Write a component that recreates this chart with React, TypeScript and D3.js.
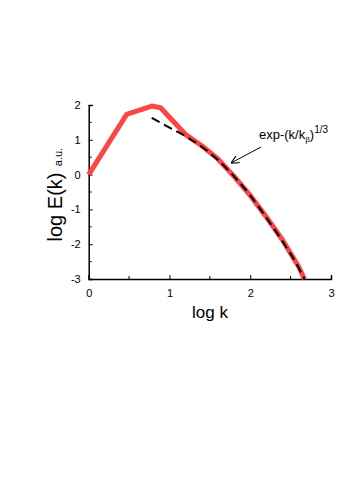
import React, { useEffect, useRef } from 'react';
import * as d3 from 'd3';

// measured spectrum (red) and stretched-exponential fit (dashed)
const specLogK = [0, 0.47, 0.78, 0.89, 1.2, 1.4, 1.6, 1.8, 2.0, 2.2, 2.4, 2.6, 2.67];
const specLogE = [0, 1.73, 1.97, 1.92, 1.15, 0.83, 0.45, -0.05, -0.6, -1.22, -1.88, -2.65, -3.0];

const fitLogK = [0.78, 1.0, 1.2, 1.4, 1.6, 1.8, 2.0, 2.2, 2.4, 2.6, 2.67];
const fitLogE = [1.63, 1.35, 1.1, 0.8, 0.42, -0.05, -0.6, -1.24, -1.92, -2.68, -3.0];

const xTicks = [0, 1, 2, 3];
const yTicks = [-3, -2, -1, 0, 1, 2];

export default function App() {
    const ref = useRef<SVGSVGElement>(null);

    useEffect(() => {
        const svg = d3.select(ref.current);
        svg.selectAll('*').remove();

        const font = 'Arial, "Liberation Sans", sans-serif';
        const x = d3.scaleLinear().domain([0, 3]).range([88.7, 331]);
        const y = d3.scaleLinear().domain([-3, 2]).range([279, 105]);

        // axes with inward ticks
        const xAxis = d3.axisBottom(x).tickValues(xTicks).tickSize(-4).tickPadding(10).tickFormat(d => String(d));
        const yAxis = d3.axisLeft(y).tickValues(yTicks).tickSize(-4).tickPadding(8).tickFormat(d => String(d));

        const gx = svg.append('g').attr('transform', `translate(0,${y(-3)})`).call(xAxis);
        const gy = svg.append('g').attr('transform', `translate(${x(0)},0)`).call(yAxis);
        [gx, gy].forEach(g => {
            g.select('.domain').attr('stroke', '#000').attr('stroke-width', 1.5);
            g.selectAll('.tick line').attr('stroke', '#000').attr('stroke-width', 1);
            g.selectAll('.tick text').attr('font-family', font).attr('font-size', 11).attr('fill', '#000');
        });
        gx.selectAll('.tick text').attr('dy', '0.71em');

        // minor ticks
        const g = svg.append('g').attr('stroke', '#000').attr('stroke-width', 1);
        [0.5, 1.5, 2.5].forEach(v => {
            g.append('line').attr('x1', x(v)).attr('x2', x(v)).attr('y1', y(-3)).attr('y2', y(-3) - 3);
        });
        [-2.5, -1.5, -0.5, 0.5, 1.5].forEach(v => {
            g.append('line').attr('x1', x(0)).attr('x2', x(0) + 3).attr('y1', y(v)).attr('y2', y(v));
        });

        const line = d3.line<[number, number]>().x(d => x(d[0])).y(d => y(d[1]));

        svg.append('path')
            .datum(specLogK.map((k, i) => [k, specLogE[i]] as [number, number]))
            .attr('d', line)
            .attr('fill', 'none')
            .attr('stroke', '#ff4444')
            .attr('stroke-width', 5)
            .attr('stroke-linejoin', 'round');

        svg.append('path')
            .datum(fitLogK.map((k, i) => [k, fitLogE[i]] as [number, number]))
            .attr('d', d3.line<[number, number]>().x(d => x(d[0])).y(d => y(d[1])).curve(d3.curveMonotoneX))
            .attr('fill', 'none')
            .attr('stroke', '#000')
            .attr('stroke-width', 2)
            .attr('stroke-dasharray', '9,5');

        // axis titles
        svg.append('text')
            .attr('x', 210).attr('y', 318)
            .attr('text-anchor', 'middle')
            .attr('font-family', font).attr('font-size', 17)
            .text('log k');

        svg.append('text')
            .attr('transform', 'translate(62,207) rotate(-90)')
            .attr('text-anchor', 'middle')
            .attr('font-family', font).attr('font-size', 20)
            .text('log E(k)');

        svg.append('text')
            .attr('transform', 'translate(62,157) rotate(-90)')
            .attr('text-anchor', 'middle')
            .attr('font-family', font).attr('font-size', 11)
            .text('a.u.');

        // annotation
        const ann = svg.append('text')
            .attr('x', 259).attr('y', 139)
            .attr('font-family', font).attr('font-size', 13);
        ann.append('tspan').text('exp-(k/k');
        ann.append('tspan').attr('font-size', 8).attr('dy', 3).text('β');
        ann.append('tspan').attr('dy', -3).text(')');
        ann.append('tspan').attr('font-size', 10).attr('dy', -6).text('1/3');

        svg.append('defs').append('marker')
            .attr('id', 'arr').attr('viewBox', '0 0 10 10')
            .attr('refX', 10).attr('refY', 5)
            .attr('markerWidth', 8).attr('markerHeight', 8)
            .attr('markerUnits', 'userSpaceOnUse')
            .attr('orient', 'auto')
            .append('path').attr('d', 'M0,0 L10,5 L0,10').attr('fill', 'none').attr('stroke', '#000').attr('stroke-width', 1.5);

        svg.append('line')
            .attr('x1', 261).attr('y1', 147).attr('x2', 231).attr('y2', 163)
            .attr('stroke', '#000').attr('stroke-width', 1)
            .attr('marker-end', 'url(#arr)');
    }, []);

    return (
        <svg ref={ref} width={349} height={500}
            style={{ position: 'absolute', left: 0, top: 0, background: '#fff' }} />
    );
}
